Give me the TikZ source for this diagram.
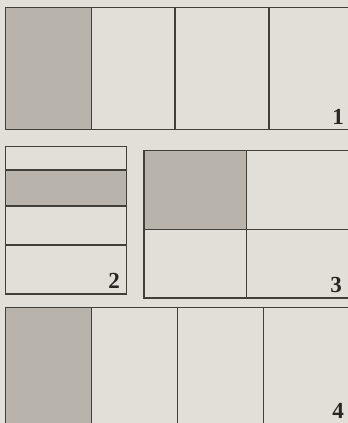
\documentclass[tikz,border=0pt]{standalone}
\usepackage{fontspec}
\setmainfont{Liberation Serif}
\usetikzlibrary{positioning}
\definecolor{ppPaper}{RGB}{226,223,216}
\definecolor{ppShade}{RGB}{184,180,171}
\definecolor{ppLine}{RGB}{66,62,56}
\definecolor{ppInk}{RGB}{40,38,35}
\tikzset{
    part/.style={draw=ppLine, line width=1.3pt, fill=ppPaper},
    shaded/.style={draw=ppLine, line width=1.3pt, fill=ppShade},
    divider/.style={draw=ppLine, line width=1.3pt},
    tag/.style={font=\fontsize{23}{23}\selectfont\bfseries, text=ppInk, inner sep=0pt, anchor=south east}
}
\begin{document}
\begin{tikzpicture}[x=1pt, y=-1pt]
  \useasboundingbox[fill=ppPaper] (0,0) rectangle (348,423);
  \clip (0,0) rectangle (348,423);

  % Figure 1
  \draw[part] (5.5,7.5) rectangle (352,129.5);
  \draw[shaded] (5.5,7.5) rectangle (91.5,129.5);
  \draw[divider] (175,7.5) -- (175,129.5);
  \draw[divider] (269,7.5) -- (269,129.5);
  \node[tag] (one) at (344,125) {1};

  % Figure 2
  \draw[part] (5.5,146.5) rectangle (126.5,294);
  \draw[shaded] (5.5,170) rectangle (126.5,206);
  \draw[divider] (5.5,245) -- (126.5,245);
  \node[tag] (two) at (120,289) {2};

  % Figure 3
  \draw[part] (144,150.5) rectangle (352,298);
  \draw[shaded] (144,150.5) rectangle (246.5,229.5);
  \draw[divider] (246.5,229.5) -- (246.5,298);
  \draw[divider] (246.5,229.5) -- (352,229.5);
  \node[tag] (three) at (342,293) {3};

  % Figure 4
  \draw[part] (5.5,307.5) rectangle (352,430);
  \draw[shaded] (5.5,307.5) rectangle (91.5,430);
  \draw[divider] (177.5,307.5) -- (177.5,430);
  \draw[divider] (263.5,307.5) -- (263.5,430);
  \node[tag] (four) at (344,419) {4};
\end{tikzpicture}
\end{document}
